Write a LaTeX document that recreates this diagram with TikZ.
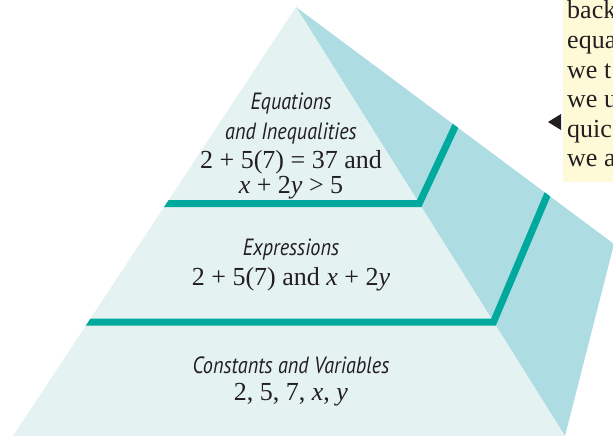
\documentclass[tikz,border=0pt]{standalone}
\usepackage{fontspec}
\setmainfont{Liberation Serif}
\newfontfamily\lblfont[FakeStretch=0.86]{PT Sans}
\definecolor{frontc}{HTML}{E4F3F1}
\definecolor{sidec}{HTML}{ADDCE3}
\definecolor{bandc}{HTML}{00A99D}
\definecolor{notec}{HTML}{FEF9D7}
\definecolor{inkc}{HTML}{231F20}
\begin{document}
\begin{tikzpicture}[x=1pt,y=-1pt,
  lbl/.style={anchor=base,inner sep=0pt,font=\lblfont\itshape\fontsize{23.5}{26}\selectfont,text=inkc},
  mth/.style={anchor=base,inner sep=0pt,font=\fontsize{26}{29}\selectfont,text=inkc},
  note/.style={anchor=base west,inner sep=0pt,font=\fontsize{26}{29}\selectfont,text=inkc},
  band/.style={draw=bandc,line width=7pt,line join=miter}]
\useasboundingbox (0,0) rectangle (613,436);
\clip (0,0) rectangle (613,436);
% pyramid corners
\coordinate (A) at (296,7);
\coordinate (BL) at (13,436);
\coordinate (BR) at (565,436);
\coordinate (C) at (614,244);
% faces
\fill[sidec] (A) -- (C) -- (BR) -- cycle;
\fill[frontc] (A) -- (BL) -- (BR) -- cycle;
% bands
\begin{scope}
\clip (A) -- (BL) -- (BR) -- (C) -- cycle;
\coordinate (b1l) at (150,203.5);
\coordinate (b1c) at (419.2,203.5);
\coordinate (b1r) at (461,114);
\coordinate (b2l) at (70,322);
\coordinate (b2c) at (493.5,322);
\coordinate (b2r) at (554,179);
\draw[band] (b1l) -- (b1c) -- (b1r);
\draw[band] (b2l) -- (b2c) -- (b2r);
\end{scope}
% labels
\node[lbl] (t1) at (291,110) {Equations};
\node[lbl] (t2) at (291,139) {and Inequalities};
\node[mth] (t3) at (291,168) {2 + 5(7) = 37 and};
\node[mth] (t4) at (291,193) {\textit{x} + 2\textit{y} > 5};
\node[lbl] (m1) at (291,255) {Expressions};
\node[mth] (m2) at (291,285) {2 + 5(7) and \textit{x} + 2\textit{y}};
\node[lbl] (c1) at (291,373) {Constants and Variables};
\node[mth] (c2) at (291,400) {2, 5, 7, \textit{x}, \textit{y}};
% note box
\fill[notec] (563,-5) rectangle (620,182);
\fill[inkc] (548,122) -- (561,114) -- (561,130) -- cycle;
\node[note] (n1) at (567,19) {back};
\node[note] (n2) at (567,48.5) {equa};
\node[note] (n3) at (567,78) {we t};
\node[note] (n4) at (567,107.5) {we u};
\node[note] (n5) at (567,137) {quic};
\node[note] (n6) at (567,166.5) {we a};
\end{tikzpicture}
\end{document}
